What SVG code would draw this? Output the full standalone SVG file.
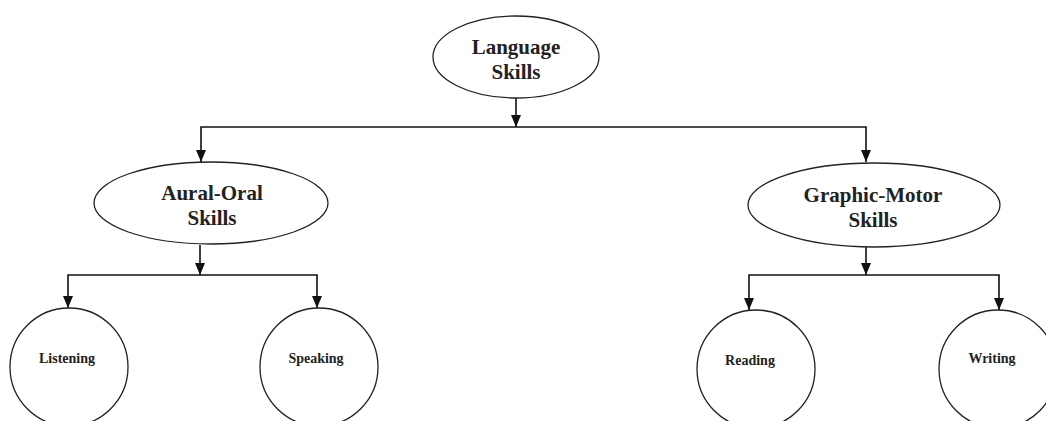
<svg xmlns="http://www.w3.org/2000/svg" width="1046" height="421" viewBox="0 0 1046 421">
<style>
.shape{fill:#fff;stroke:#222;stroke-width:1.3}
.conn{fill:none;stroke:#111;stroke-width:1.6}
.big{font-family:"Liberation Serif","Times New Roman",serif;font-weight:bold;font-size:21px;fill:#222;text-anchor:middle}
.small{font-family:"Liberation Serif","Times New Roman",serif;font-weight:bold;font-size:14px;fill:#222;text-anchor:middle}
</style>
<defs>
<marker id="ah" markerUnits="userSpaceOnUse" markerWidth="12" markerHeight="10" viewBox="0 0 12 10" refX="12" refY="5" orient="auto">
<path d="M0,0 L12,5 L0,10 Z" fill="#111"/>
</marker>
</defs>
<rect width="1046" height="421" fill="#fff"/>
<g id="connectors">
<line class="conn" x1="516" y1="98" x2="516" y2="127" marker-end="url(#ah)"/>
<polyline class="conn" points="516,127 201,127 201,162" marker-end="url(#ah)"/>
<polyline class="conn" points="516,127 866,127 866,162" marker-end="url(#ah)"/>
<line class="conn" x1="200" y1="245" x2="200" y2="275" marker-end="url(#ah)"/>
<polyline class="conn" points="200,275 68,275 68,308" marker-end="url(#ah)"/>
<polyline class="conn" points="200,275 317,275 317,308" marker-end="url(#ah)"/>
<line class="conn" x1="866" y1="247" x2="866" y2="275" marker-end="url(#ah)"/>
<polyline class="conn" points="866,275 749,275 749,310" marker-end="url(#ah)"/>
<polyline class="conn" points="866,275 999,275 999,310" marker-end="url(#ah)"/>
</g>
<g id="language-skills">
<ellipse class="shape" cx="516" cy="57" rx="83" ry="41"/>
<text class="big" x="516" y="54">Language</text>
<text class="big" x="516" y="79">Skills</text>
</g>
<g id="aural-oral-skills">
<ellipse class="shape" cx="211" cy="203" rx="117" ry="41"/>
<text class="big" x="212" y="200">Aural-Oral</text>
<text class="big" x="212" y="225">Skills</text>
</g>
<g id="graphic-motor-skills">
<ellipse class="shape" cx="874" cy="205" rx="126" ry="42"/>
<text class="big" x="873" y="202">Graphic-Motor</text>
<text class="big" x="873" y="227">Skills</text>
</g>
<g id="listening">
<circle class="shape" cx="69" cy="367" r="59"/>
<text class="small" x="67" y="363">Listening</text>
</g>
<g id="speaking">
<circle class="shape" cx="319" cy="367" r="59"/>
<text class="small" x="316" y="363">Speaking</text>
</g>
<g id="reading">
<circle class="shape" cx="756" cy="369" r="59"/>
<text class="small" x="750" y="365">Reading</text>
</g>
<g id="writing">
<circle class="shape" cx="998" cy="369" r="59"/>
<text class="small" x="992" y="363">Writing</text>
</g>
</svg>
